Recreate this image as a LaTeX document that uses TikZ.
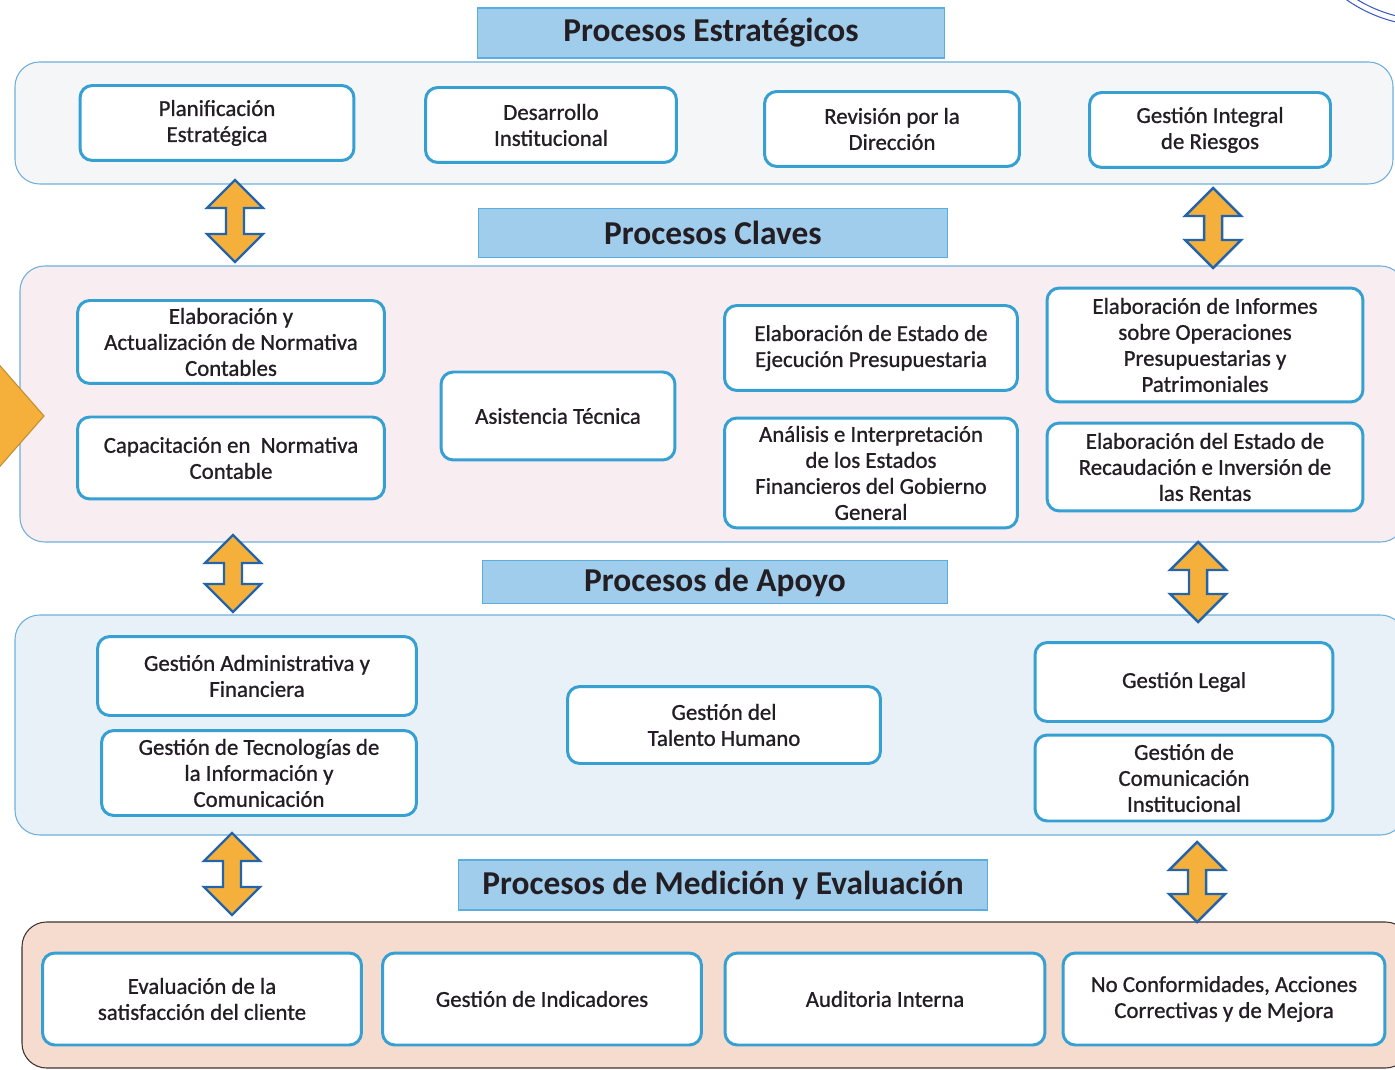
\documentclass[tikz,border=0pt]{standalone}
\usepackage{fontspec}
\setmainfont{Carlito}
\newfontfamily\boxfont{Carlito}[FakeBold=0.9]
\usepackage{tikz}
\definecolor{ink}{RGB}{35,30,35}
\definecolor{boxblue}{RGB}{55,160,210}
\definecolor{titlefill}{RGB}{160,205,235}
\definecolor{titleedge}{RGB}{90,174,221}
\definecolor{paneledge}{RGB}{110,175,220}
\definecolor{estrfill}{RGB}{244,246,248}
\definecolor{clavfill}{RGB}{248,237,241}
\definecolor{apoyfill}{RGB}{232,241,247}
\definecolor{medifill}{RGB}{246,220,207}
\definecolor{mediedge}{RGB}{60,50,50}
\definecolor{orange}{RGB}{245,176,60}
\definecolor{arrowblue}{RGB}{35,100,170}
\definecolor{stampblue}{RGB}{60,90,190}

\begin{document}
\begin{tikzpicture}[x=0.02cm, y=-0.02cm,
    proc/.style={draw=boxblue, line width=1.7pt, fill=white, rounded corners=7pt,
      align=center, text=ink, font=\boxfont\fontsize{13}{14.8}\selectfont, inner sep=2pt},
    title/.style={draw=titleedge, fill=titlefill, line width=0.6pt, text=ink,
      font=\fontsize{19}{22}\selectfont\bfseries},
    panel/.style={draw=paneledge, line width=0.6pt, rounded corners=14pt},
    updown/.style={fill=orange, draw=arrowblue, line width=1.4pt}]
    \useasboundingbox (0,0) rectangle (1395,1070);
    % stamp in the corner
    \draw[stampblue, line width=0.6pt] (1430,-120) circle(146) (1430,-120) circle(140);
    % panels
    \draw[panel, fill=estrfill] (15,62) rectangle (1393,184);
    \draw[panel, fill=clavfill] (20,266) rectangle (1405,542);
    \draw[panel, fill=apoyfill] (15,615) rectangle (1405,835);
    \draw[panel, fill=medifill, draw=mediedge] (22,922) rectangle (1410,1068);
    % titles
    \node[title, minimum width=9.34cm, minimum height=1.0cm] (estr) at (711,33) {Procesos Estratégicos};
    \node[title, minimum width=9.40cm, minimum height=0.98cm] (clav) at (713,233) {Procesos Claves};
    \node[title, minimum width=9.32cm, minimum height=0.86cm] (apoy) at (715,582) {Procesos de Apoyo};
    \node[title, minimum width=10.6cm, minimum height=1.0cm] (medi) at (723,885) {Procesos de Medición y Evaluación};
    % estrategicos
    \node[proc, minimum width=5.48cm, minimum height=1.5cm] (plan) at (217,123) {Planificación\\Estratégica};
    \node[proc, minimum width=5.02cm, minimum height=1.5cm] (desa) at (551,125) {Desarrollo\\Institucional};
    \node[proc, minimum width=5.10cm, minimum height=1.5cm] (revi) at (892,129) {Revisión por la\\Dirección};
    \node[proc, minimum width=4.82cm, minimum height=1.5cm] (ries) at (1210,130) {Gestión Integral\\de Riesgos};
    % claves
    \node[proc, minimum width=6.14cm, minimum height=1.66cm] (elab) at (231,342) {Elaboración y\\Actualización de Normativa\\Contables};
    \node[proc, minimum width=6.14cm, minimum height=1.64cm] (capa) at (231,458) {Capacitación en\ \ Normativa\\Contable};
    \node[proc, minimum width=4.68cm, minimum height=1.76cm] (asis) at (558,416) {Asistencia Técnica};
    \node[proc, minimum width=5.86cm, minimum height=1.70cm] (ejec) at (871,348) {Elaboración de Estado de\\Ejecución Presupuestaria};
    \node[proc, minimum width=5.86cm, minimum height=2.20cm] (anal) at (871,473) {Análisis e Interpretación\\de los Estados\\Financieros del Gobierno\\General};
    \node[proc, minimum width=6.32cm, minimum height=2.28cm] (info) at (1205,345) {Elaboración de Informes\\sobre Operaciones\\Presupuestarias y\\Patrimoniales};
    \node[proc, minimum width=6.32cm, minimum height=1.76cm] (reca) at (1205,467) {Elaboración del Estado de\\Recaudación e Inversión de\\las Rentas};
    % apoyo
    \node[proc, minimum width=6.38cm, minimum height=1.58cm] (admi) at (257,676) {Gestión Administrativa y\\Financiera};
    \node[proc, minimum width=6.30cm, minimum height=1.70cm] (tecn) at (259,773) {Gestión de Tecnologías de\\la Información y\\Comunicación};
    \node[proc, minimum width=6.26cm, minimum height=1.54cm] (tale) at (724,725) {Gestión del\\Talento Humano};
    \node[proc, minimum width=5.96cm, minimum height=1.58cm] (lega) at (1184,682) {Gestión Legal};
    \node[proc, minimum width=5.96cm, minimum height=1.72cm] (comu) at (1184,778) {Gestión de\\Comunicación\\Institucional};
    % medicion y evaluacion
    \node[proc, minimum width=6.38cm, minimum height=1.84cm] (eval) at (202,999) {Evaluación de la\\satisfacción del cliente};
    \node[proc, minimum width=6.38cm, minimum height=1.84cm] (indi) at (542,999) {Gestión de Indicadores};
    \node[proc, minimum width=6.40cm, minimum height=1.84cm] (audi) at (885,999) {Auditoria Interna};
    \node[proc, minimum width=6.44cm, minimum height=1.84cm] (conf) at (1224,999) {No Conformidades, Acciones\\Correctivas y de Mejora};
    % arrow coming in from the left
    \filldraw[fill=orange, draw=orange!80!black, line width=0.6pt] (-5,360) -- (44,416) -- (-5,472) -- cycle;
    % double arrows between the panels
    \foreach \x/\ya/\yb in {235/180/262, 1213/188/268, 233/535/612, 1198/542/622, 232/833/915, 1197/842/922}
      \filldraw[updown] (\x,\ya) -- (\x+28,\ya+28) -- (\x+9,\ya+28) -- (\x+9,\yb-28)
        -- (\x+28,\yb-28) -- (\x,\yb) -- (\x-28,\yb-28) -- (\x-9,\yb-28)
        -- (\x-9,\ya+28) -- (\x-28,\ya+28) -- cycle;
\end{tikzpicture}
\end{document}
